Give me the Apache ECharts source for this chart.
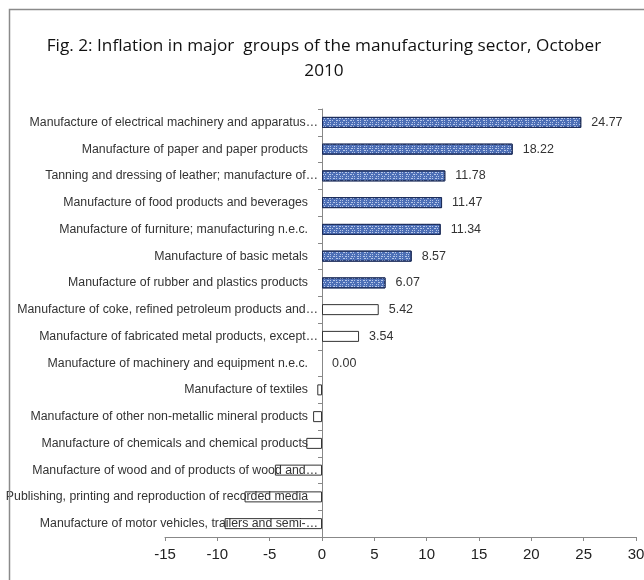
<!DOCTYPE html>
<html>
<head>
<meta charset="utf-8">
<script src="https://cdn.jsdelivr.net/npm/echarts@6/dist/echarts.min.js"></script>
<style>
html,body{margin:0;padding:0;background:#fff;}
#chart{width:644px;height:580px;}
</style>
</head>
<body>
<div id="chart"></div>
<script>
const titleText = "Fig. 2: Inflation in major  groups of the manufacturing sector, October\n2010";
const categories = [
  "Manufacture of electrical machinery and apparatus…",
  "Manufacture of paper and paper products",
  "Tanning and dressing of leather; manufacture of…",
  "Manufacture of food products and beverages",
  "Manufacture of furniture; manufacturing n.e.c.",
  "Manufacture of basic metals",
  "Manufacture of rubber and plastics products",
  "Manufacture of coke, refined petroleum products and…",
  "Manufacture of fabricated metal products, except…",
  "Manufacture of machinery and equipment n.e.c.",
  "Manufacture of textiles",
  "Manufacture of other non-metallic mineral products",
  "Manufacture of chemicals and chemical products",
  "Manufacture of wood and of products of wood and…",
  "Publishing, printing and reproduction of recorded media",
  "Manufacture of motor vehicles, trailers and semi-…"
];
const values = [24.77, 18.22, 11.78, 11.47, 11.34, 8.57, 6.07, 5.42, 3.54, 0.00, -0.45, -0.85, -1.5, -4.5, -7.4, -9.3];
const patternedCount = 7;
const xTicks = {min: -15, max: 30, interval: 5};

const gridLeft = 165, gridRight = 8;
const gridWidth = 644 - gridLeft - gridRight;
const zeroOffset = gridWidth * (0 - xTicks.min) / (xTicks.max - xTicks.min);

const chart = echarts.init(document.getElementById('chart'), null, {renderer: 'canvas'});
const data = values.map((v, i) => ({
  value: v,
  itemStyle: i < patternedCount ? {
    color: '#4d6fb6',
    borderColor: '#1c2c58',
    borderWidth: 1,
    decal: {
      symbol: 'rect',
      symbolSize: 1,
      color: 'rgba(225,235,255,0.7)',
      dashArrayX: [[1, 2, 2, 1], [2, 1, 1, 3], [1, 3, 1, 1]],
      dashArrayY: [1, 1],
      rotation: 0
    }
  } : {
    color: 'rgba(255,255,255,0)',
    borderColor: '#333333',
    borderWidth: v === 0 ? 0 : 1
  }
}));

chart.setOption({
  animation: false,
  backgroundColor: '#ffffff',
  title: {
    text: titleText,
    left: 319,
    top: 29,
    textAlign: 'center',
    textStyle: {
      fontFamily: 'Open Sans',
      fontSize: 17.2,
      fontWeight: 'normal',
      color: '#111',
      lineHeight: 25
    }
  },
  graphic: [{
    type: 'rect',
    shape: {x: 9.5, y: 9.5, width: 700, height: 700},
    style: {fill: 'none', stroke: '#8a8a8a', lineWidth: 1.5},
    silent: true,
    z: 100
  }],
  grid: {left: gridLeft, right: gridRight, top: 109, bottom: 43, containLabel: false, outerBoundsMode: 'none'},
  xAxis: {
    type: 'value',
    min: xTicks.min,
    max: xTicks.max,
    interval: xTicks.interval,
    splitLine: {show: false},
    axisLine: {show: true, lineStyle: {color: '#888', width: 1}},
    axisTick: {show: true, length: 4, lineStyle: {color: '#888'}},
    axisLabel: {
      fontFamily: 'Liberation Sans',
      fontSize: 15,
      color: '#222',
      margin: 10
    }
  },
  yAxis: {
    type: 'category',
    data: categories,
    inverse: true,
    position: 'left',
    offset: -zeroOffset,
    axisLine: {show: true, onZero: false, lineStyle: {color: '#888', width: 1}},
    axisTick: {show: true, length: 4, lineStyle: {color: '#888'}},
    axisLabel: {
      fontFamily: 'Liberation Sans',
      fontSize: 12.3,
      color: '#333',
      margin: 4,
      formatter: s => (s.endsWith('…') ? '{e|' + s + '}' : '{n|' + s + '}'),
      rich: {
        e: {fontFamily: 'Liberation Sans', fontSize: 12.3, color: '#333'},
        n: {fontFamily: 'Liberation Sans', fontSize: 12.3, color: '#333', padding: [0, 10, 0, 0]}
      }
    },
    splitLine: {show: false}
  },
  series: [{
    type: 'bar',
    data: data,
    barWidth: 11,
    z: 3,
    label: {
      show: true,
      position: 'right',
      distance: 10,
      fontFamily: 'Liberation Sans',
      fontSize: 12.5,
      color: '#333',
      formatter: p => (p.value >= 0 ? p.value.toFixed(2) : '')
    }
  }]
});
</script>
</body>
</html>
